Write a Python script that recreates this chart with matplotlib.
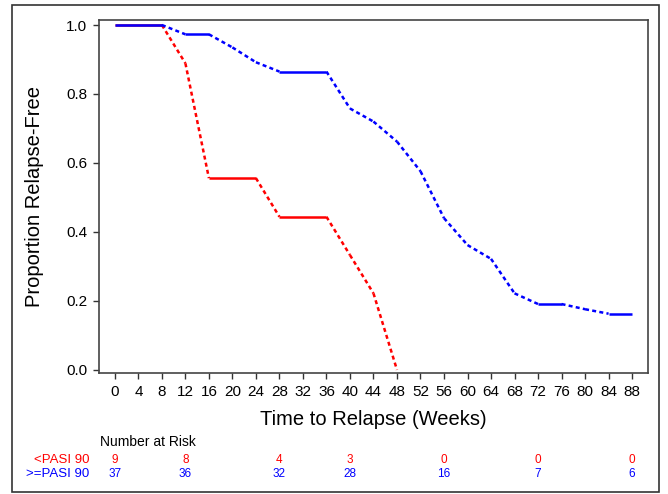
import matplotlib
matplotlib.use('Agg')
import matplotlib.pyplot as plt
from matplotlib.patches import Rectangle
from matplotlib.transforms import blended_transform_factory

plt.rcParams['font.family'] = ['Liberation Sans', 'DejaVu Sans']

# Kaplan-Meier style estimates
weeks_lo = [0, 8, 12, 16, 24, 28, 36, 40, 44, 48]
surv_lo = [1.0, 1.0, 0.889, 0.556, 0.556, 0.444, 0.444, 0.333, 0.222, 0.0]

weeks_hi = [0, 8, 12, 16, 20, 24, 28, 36, 40, 44, 48, 52, 56, 60, 64, 68, 72, 76, 80, 84, 88]
surv_hi = [1.0, 1.0, 0.973, 0.973, 0.935, 0.892, 0.865, 0.865, 0.758, 0.72, 0.662,
           0.576, 0.44, 0.362, 0.322, 0.222, 0.191, 0.191, 0.176, 0.163, 0.163]

risk_weeks = [0, 12, 28, 40, 56, 72, 88]
risk_lo = [9, 8, 4, 3, 0, 0, 0]
risk_hi = [37, 36, 32, 28, 16, 7, 6]

group_labels = ['<PASI 90', '>=PASI 90']
colors = ['#ff0000', '#0000ff']

fig = plt.figure(figsize=(6.68, 4.94), dpi=100)
ax = fig.add_axes([0.1482, 0.2449, 0.8218, 0.7146])


def draw_curve(x, y, c):
    # flat parts solid, falling parts dashed
    for i in range(len(x) - 1):
        if y[i] == y[i + 1]:
            ax.plot(x[i:i + 2], y[i:i + 2], color=c, lw=1.8, solid_capstyle='butt')
        else:
            ax.plot(x[i:i + 2], y[i:i + 2], color=c, lw=1.8, dashes=(1.6, 1.3))


draw_curve(weeks_lo, surv_lo, colors[0])
draw_curve(weeks_hi, surv_hi, colors[1])

ax.set_xlim(-2.7, 90.7)
ax.set_ylim(-0.009, 1.0145)
ax.set_xticks(range(0, 89, 4))
ax.set_yticks([0.0, 0.2, 0.4, 0.6, 0.8, 1.0])
ax.set_yticklabels(['0.0', '0.2', '0.4', '0.6', '0.8', '1.0'])
ax.tick_params(labelsize=11, length=4.5, width=1, color='#333333', pad=4)
for s in ax.spines.values():
    s.set_color('#444444')
    s.set_linewidth(1.2)

ax.set_xlabel('Time to Relapse (Weeks)', fontsize=14.5)
ax.set_ylabel('Proportion Relapse-Free', fontsize=14.5)
ax.xaxis.set_label_coords(0.5, -0.105)
ax.yaxis.set_label_coords(-0.1, 0.5)

# number at risk table
tr = blended_transform_factory(ax.transData, fig.transFigure)
fig.text(100 / 668, 1 - 442 / 494, 'Number at Risk', fontsize=10, va='center', ha='left')
row_y = [1 - 459.5 / 494, 1 - 474 / 494]
for lab, vals, c, yy in zip(group_labels, [risk_lo, risk_hi], colors, row_y):
    fig.text(89 / 668, yy, lab, fontsize=9.5, color=c, va='center', ha='right')
    for w, v in zip(risk_weeks, vals):
        ax.text(w, yy, str(v), transform=tr, fontsize=8.5, color=c, va='center', ha='center')

# outer frame
fig.patches.append(Rectangle((12 / 668, 2.5 / 494), 646.5 / 668, 486 / 494,
                             transform=fig.transFigure, fill=False,
                             edgecolor='#333333', lw=1.2))

fig.savefig('out.png', dpi=100)
